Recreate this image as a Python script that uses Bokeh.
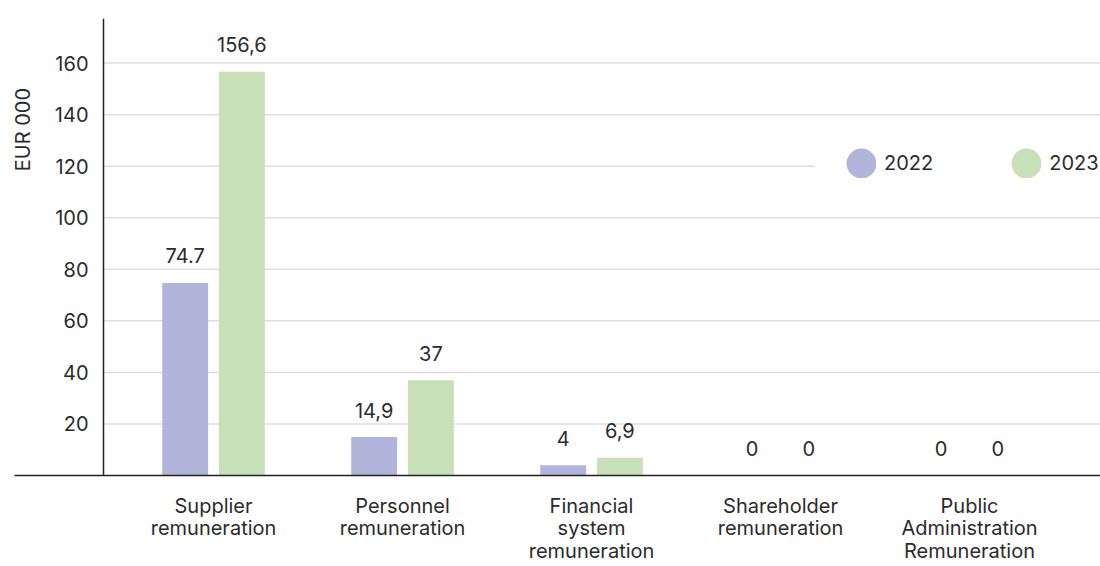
import math
from bokeh.plotting import figure
from bokeh.models import Range1d, FixedTicker, ColumnDataSource, Label, Legend, LegendItem
from bokeh.core.properties import value
from bokeh.embed import file_html
from bokeh.resources import INLINE

# ---- data ----
categories = ["Supplier\nremuneration", "Personnel\nremuneration",
              "Financial\nsystem\nremuneration", "Shareholder\nremuneration",
              "Public\nAdministration\nRemuneration"]
series_names = ["2022", "2023"]
values_2022 = [74.7, 14.9, 4, 0, 0]
values_2023 = [156.6, 37, 6.9, 0, 0]
labels_2022 = ["74.7", "14,9", "4", "0", "0"]
labels_2023 = ["156,6", "37", "6,9", "0", "0"]
y_ticks = [20, 40, 60, 80, 100, 120, 140, 160]
y_title = "EUR 000"

# ---- style / layout ----
FONT = "Inter"
TEXT = "#2b2b2b"
C22 = "#b1b5db"
C23 = "#c8e0b8"
X_START, X_END = -1.053, 4.693
Y_AXIS_X = -0.582
Y_END = 177.3
OFF = 0.15
BAR_W = 0.243
NAN = float("nan")

x_idx = list(range(len(categories)))

p = figure(width=1100, height=566, output_backend="svg", toolbar_location=None,
           x_range=Range1d(X_START, X_END), y_range=Range1d(0, Y_END),
           min_border_left=14, min_border_right=0, min_border_top=18, min_border_bottom=88)
p.outline_line_color = None
p.grid.visible = False
p.background_fill_color = "white"
p.border_fill_color = "white"

# grid lines starting at the y axis
p.segment(x0=[Y_AXIS_X] * len(y_ticks), y0=y_ticks, x1=[X_END] * len(y_ticks), y1=y_ticks,
          line_color="#dedede", line_width=1.5, level="underlay")

src = ColumnDataSource(dict(
    x22=[i - OFF for i in x_idx], x23=[i + OFF for i in x_idx],
    v22=values_2022, v23=values_2023, l22=labels_2022, l23=labels_2023))

p.vbar(x="x22", top="v22", width=BAR_W, source=src, fill_color=C22, line_color=None)
p.vbar(x="x23", top="v23", width=BAR_W, source=src, fill_color=C23, line_color=None)

for xc, yc, lc in (("x22", "v22", "l22"), ("x23", "v23", "l23")):
    p.text(x=xc, y=yc, text=lc, source=src, text_font=value(FONT), text_font_size="20px",
           text_color=TEXT, text_align="center", text_baseline="alphabetic", y_offset=-27)

# legend with round dots (renderers draw nothing in the plot); thick outline
# in the same colour enlarges the legend dot
r22 = p.scatter(x=[NAN], y=[NAN], marker="circle", fill_color=C22, line_color=C22, line_width=18)
r23 = p.scatter(x=[NAN], y=[NAN], marker="circle", fill_color=C23, line_color=C23, line_width=18)
legend = Legend(items=[LegendItem(label=series_names[0], renderers=[r22]),
                       LegendItem(label=series_names[1], renderers=[r23])],
                orientation="horizontal", location=(801, 266),
                glyph_width=30, glyph_height=30, label_height=30, label_standoff=8,
                spacing=78, padding=30, margin=0,
                background_fill_color="white", background_fill_alpha=1,
                border_line_color="white", border_line_width=1,
                label_text_font=FONT, label_text_font_size="20px",
                label_text_color=TEXT, label_text_baseline="middle")
p.add_layout(legend)

# y axis
ya = p.yaxis[0]
ya.fixed_location = Y_AXIS_X
ya.ticker = FixedTicker(ticks=y_ticks)
ya.major_tick_out = 0
ya.major_tick_in = 0
ya.minor_tick_out = 0
ya.minor_tick_in = 0
ya.axis_line_color = "#222222"
ya.axis_line_width = 1.5
ya.major_label_text_font = FONT
ya.major_label_text_font_size = "20px"
ya.major_label_text_color = TEXT
ya.major_label_standoff = 15

# x axis
xa = p.xaxis[0]
xa.ticker = FixedTicker(ticks=x_idx)
xa.major_label_overrides = {i: c for i, c in zip(x_idx, categories)}
xa.major_tick_out = 0
xa.major_tick_in = 0
xa.minor_tick_out = 0
xa.minor_tick_in = 0
xa.axis_line_color = "#222222"
xa.axis_line_width = 1.5
xa.major_label_text_font = FONT
xa.major_label_text_font_size = "20px"
xa.major_label_text_color = TEXT
xa.major_label_text_line_height = 0.95
xa.major_label_standoff = 18

p.add_layout(Label(x=-1.0106, y=134.2, text=y_title, angle=math.pi / 2,
                   text_align="center", text_baseline="middle", text_font=FONT,
                   text_font_size="20px", text_color=TEXT))

open("out.html", "w").write(file_html(p, INLINE, "chart"))
